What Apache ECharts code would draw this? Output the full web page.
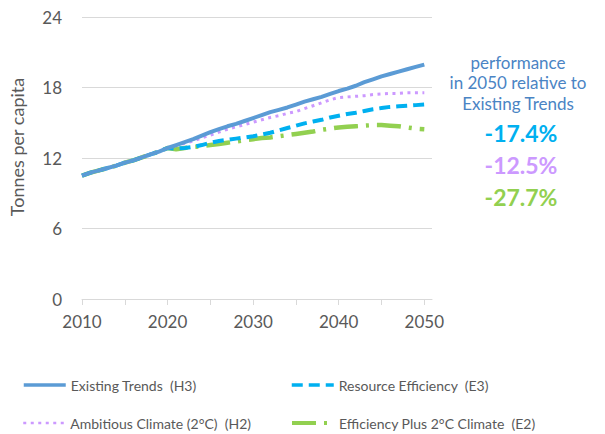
<!DOCTYPE html>
<html>
<head>
<meta charset="utf-8">
<script src="https://cdn.jsdelivr.net/npm/echarts@6/dist/echarts.min.js"></script>
<style>html,body{margin:0;padding:0;background:#fff}#c{width:605px;height:434px}</style>
</head>
<body>
<div id="c"></div>
<script>
var years = [];
for (var y = 2010; y <= 2050; y++) years.push(y);
var xTickLabels = [2010, 2020, 2030, 2040, 2050];
var xTicks = [2010, 2015, 2020, 2025, 2030, 2035, 2040, 2045, 2050];
var yTicks = [0, 6, 12, 18, 24];

var seriesNames = ['Existing Trends  (H3)', 'Resource Efficiency  (E3)', 'Ambitious Climate (2°C)  (H2)', 'Efficiency Plus 2°C Climate  (E2)'];

var existingTrends = [10.5,10.75,10.95,11.15,11.35,11.6,11.8,12.05,12.3,12.55,12.85,
  13.1,13.35,13.6,13.9,14.2,14.45,14.7,14.9,15.15,15.4,
  15.65,15.9,16.1,16.3,16.55,16.8,17.0,17.2,17.45,17.7,
  17.9,18.15,18.45,18.7,18.95,19.15,19.35,19.55,19.75,19.95];
var resourceEfficiency = [10.5,10.75,10.95,11.15,11.35,11.6,11.8,12.05,12.3,12.55,12.85,
  12.8,12.85,12.95,13.1,13.3,13.45,13.55,13.65,13.75,13.85,
  14.0,14.15,14.35,14.55,14.75,14.95,15.1,15.25,15.45,15.6,
  15.75,15.85,16.0,16.15,16.25,16.35,16.4,16.45,16.5,16.55];
var ambitiousClimate = [10.5,10.75,10.95,11.15,11.35,11.6,11.8,12.05,12.3,12.55,12.85,
  13.05,13.25,13.45,13.7,13.95,14.2,14.45,14.65,14.85,15.05,
  15.25,15.45,15.6,15.8,15.95,16.2,16.45,16.7,16.95,17.15,
  17.2,17.25,17.3,17.4,17.45,17.5,17.5,17.55,17.55,17.55];
var efficiencyPlus = [10.5,10.75,10.95,11.15,11.35,11.6,11.8,12.05,12.3,12.55,12.85,
  12.75,12.85,12.95,13.0,13.1,13.2,13.3,13.4,13.5,13.6,
  13.7,13.75,13.85,13.95,14.05,14.15,14.25,14.4,14.5,14.6,
  14.65,14.7,14.75,14.8,14.8,14.75,14.7,14.6,14.5,14.45];

var annotationLines = ['performance', 'in 2050 relative to', 'Existing Trends'];
var annotationValues = ['-17.4%', '-12.5%', '-27.7%'];

function pairs(vals) { return years.map(function (yr, i) { return [yr, vals[i]]; }); }

var colors = ['#5B9BD5', '#00B0F0', '#CC99FF', '#92D050'];
var styles = [
  { width: 4, type: 'solid' },
  { width: 4, type: [11, 6] },
  { width: 3, type: [3, 4.5] },
  { width: 4.5, type: [24, 8, 3, 8] }
];
var seriesData = [existingTrends, resourceEfficiency, ambitiousClimate, efficiencyPlus];
var FONT = 'Lato';
var TXT = '#595959';

var chart = echarts.init(document.getElementById('c'), null, { renderer: 'svg' });

var legendPos = [
  { left: 22, top: 378 }, { left: 290, top: 378 },
  { left: 22, top: 416 }, { left: 290, top: 416 }
];

var option = {
  backgroundColor: '#fff',
  animation: false,
  grid: { left: 81, right: 173, top: 17, bottom: 135 },
  legend: seriesNames.map(function (n, i) {
    return {
      data: [n], left: legendPos[i].left, top: legendPos[i].top, padding: 0,
      itemWidth: 42, itemHeight: 14, itemGap: 6,
      itemStyle: { opacity: 0 },
      lineStyle: { width: styles[i].width - 0.5 },
      textStyle: { fontFamily: FONT, fontSize: 14, color: TXT, whiteSpace: 'pre' }
    };
  }),
  xAxis: {
    type: 'value', min: 2010, max: 2050.9,
    axisLine: { show: true, lineStyle: { color: '#d9d9d9', width: 1 } },
    axisTick: { show: true, length: 6, customValues: xTicks, lineStyle: { color: '#d9d9d9' } },
    axisLabel: { customValues: xTickLabels, formatter: function (v) { return String(v); },
      fontFamily: FONT, fontSize: 17, color: TXT, margin: 14 },
    splitLine: { show: false }
  },
  yAxis: {
    type: 'value', min: 0, max: 24, interval: 6,
    name: 'Tonnes per capita', nameLocation: 'middle', nameGap: 56,
    nameTextStyle: { fontFamily: FONT, fontSize: 18, color: TXT, padding: [0, 0, 0, 22] },
    axisLine: { show: false }, axisTick: { show: false },
    axisLabel: { fontFamily: FONT, fontSize: 17, color: TXT, margin: 20 },
    splitLine: { lineStyle: { color: '#d9d9d9', width: 1 } }
  },
  series: seriesNames.map(function (n, i) {
    return {
      name: n, type: 'line', data: pairs(seriesData[i]),
      showSymbol: false, symbol: 'none',
      color: colors[i],
      lineStyle: { color: colors[i], width: styles[i].width, type: styles[i].type, cap: 'butt' },
      z: 10 - i
    };
  }),
  graphic: annotationLines.map(function (t, i) {
    return { type: 'text', x: 518, y: 62 + i * 20.5,
      style: { text: t, fill: '#4A84C4', font: '17px ' + FONT, textAlign: 'center', textVerticalAlign: 'middle' } };
  }).concat(annotationValues.map(function (t, i) {
    return { type: 'text', x: 521, y: 133 + i * 32,
      style: { text: t, fill: [colors[1], colors[2], colors[3]][i], font: 'bold 23px ' + FONT, textAlign: 'center', textVerticalAlign: 'middle' } };
  }))
};
chart.setOption(option);
</script>
</body>
</html>
